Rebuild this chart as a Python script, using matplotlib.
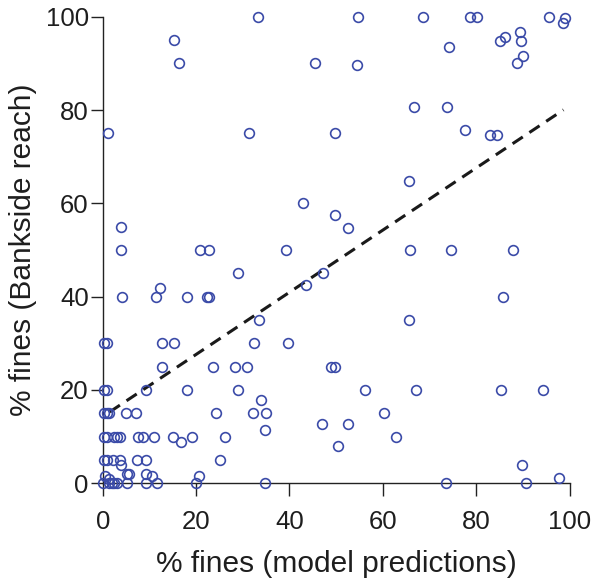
"""
Bankside-reach % fines against model-predicted % fines.
"""
import matplotlib

matplotlib.use("Agg")
import matplotlib.pyplot as plt
import numpy as np

plt.rcParams["font.family"] = ["Liberation Sans", "DejaVu Sans"]

pred = [
    33.3, 54.6, 68.6, 78.6, 80.1, 95.5, 99.0, 98.7, 89.4,
    86.2, 85.1, 89.7, 15.3, 74.1,
    90.0, 88.8, 54.4, 16.3, 45.5,
    66.6, 73.7,
    77.6, 1.2, 31.3, 49.8, 82.9, 84.4,
    65.7, 43.0, 49.8, 3.9, 52.5,
    3.9, 20.8, 22.8, 39.2, 65.9, 74.6, 87.8,
    28.9, 47.2, 12.3, 43.5,
    4.1, 11.5, 18.0, 22.4, 22.7, 85.8,
    33.4, 65.7,
    0.3, 0.9, 12.6, 15.3, 32.3, 39.7,
    12.8, 23.7, 28.3, 30.9, 49.0, 49.7,
    0.3, 0.9, 9.2, 18.1, 28.9, 56.1, 67.1, 85.4, 94.3,
    33.9,
    0.3, 0.9, 1.4, 5.0, 7.1, 24.2, 32.1, 34.9, 60.2,
    47.0, 52.5, 34.8,
    0.3, 0.9, 2.4, 3.0, 3.6, 7.6, 8.6, 11.0, 15.1, 19.2, 26.3, 62.9,
    16.7, 50.4,
    0.2, 1.0, 2.3, 3.7, 7.3, 9.2, 25.1,
    3.9, 89.8,
    5.2, 5.6, 9.3,
    10.6, 20.7, 0.4, 1.4, 97.8,
    0.0, 1.3, 1.9, 2.4, 3.0, 5.3, 9.2, 11.7, 20.0, 34.7, 73.6, 90.7,
]
obs = [
    100, 100, 100, 100, 100, 100, 99.7, 98.7, 96.7,
    95.7, 94.7, 94.7, 95.0, 93.6,
    91.6, 90.1, 89.6, 90.0, 90.0,
    80.6, 80.6,
    75.8, 75.0, 75.0, 75.0, 74.7, 74.7,
    64.7, 60.0, 57.5, 55.0, 54.7,
    50, 50, 50, 50, 50, 50, 50,
    45.0, 45.0, 41.8, 42.4,
    40, 40, 40, 40, 40, 40,
    35, 35,
    30, 30, 30, 30, 30, 30,
    25, 25, 25, 25, 25, 25,
    20, 20, 20, 20, 20, 20, 20, 20, 20,
    17.9,
    15, 15, 15, 15, 15, 15, 15, 15, 15,
    12.8, 12.8, 11.5,
    10, 10, 10, 10, 10, 10, 10, 10, 10, 10, 10, 10,
    8.8, 8.0,
    5, 5, 5, 5, 5, 5, 5,
    3.9, 3.9,
    2.1, 2.1, 2.1,
    1.5, 1.5, 1.6, 0.9, 1.1,
    0, 0, 0, 0, 0, 0, 0, 0, 0, 0, 0, 0,
]

# fitted trend line (intercept, slope) and its x extent
fit_coef = [14.3, 0.666]
fit_range = [1.5, 98.7]

ticks = [0, 20, 40, 60, 80, 100]

fig = plt.figure(figsize=(5.99, 5.85), dpi=100)
ax = fig.add_axes([0.1715, 0.1738, 0.7793, 0.7977])

ax.plot(pred, obs, "o", mfc="none", mec="#3b4ba8", mew=1.2, ms=7,
        clip_on=False, zorder=3)

fx = np.array(fit_range)
ax.plot(fx, fit_coef[0] + fit_coef[1] * fx, "--", color="#1a1a1a",
        lw=2.2, dashes=(4, 2.6), zorder=2)

ax.set_xlim(0, 100)
ax.set_ylim(0, 100)
ax.set_xticks(ticks)
ax.set_yticks(ticks)
ax.tick_params(direction="out", length=9, width=1.0, labelsize=18.5,
               color="#222222", labelcolor="#1e1e1e")
ax.tick_params(axis="x", pad=10)
ax.tick_params(axis="y", pad=1)
for side in ["top", "right"]:
    ax.spines[side].set_visible(False)
for side in ["left", "bottom"]:
    ax.spines[side].set_linewidth(1.0)
    ax.spines[side].set_color("#222222")

ax.set_xlabel("% fines (model predictions)", fontsize=21.5, labelpad=12,
              color="#1e1e1e")
ax.set_ylabel("% fines (Bankside reach)", fontsize=21.5, labelpad=6,
              color="#1e1e1e")

fig.savefig("out.png", dpi=100)
